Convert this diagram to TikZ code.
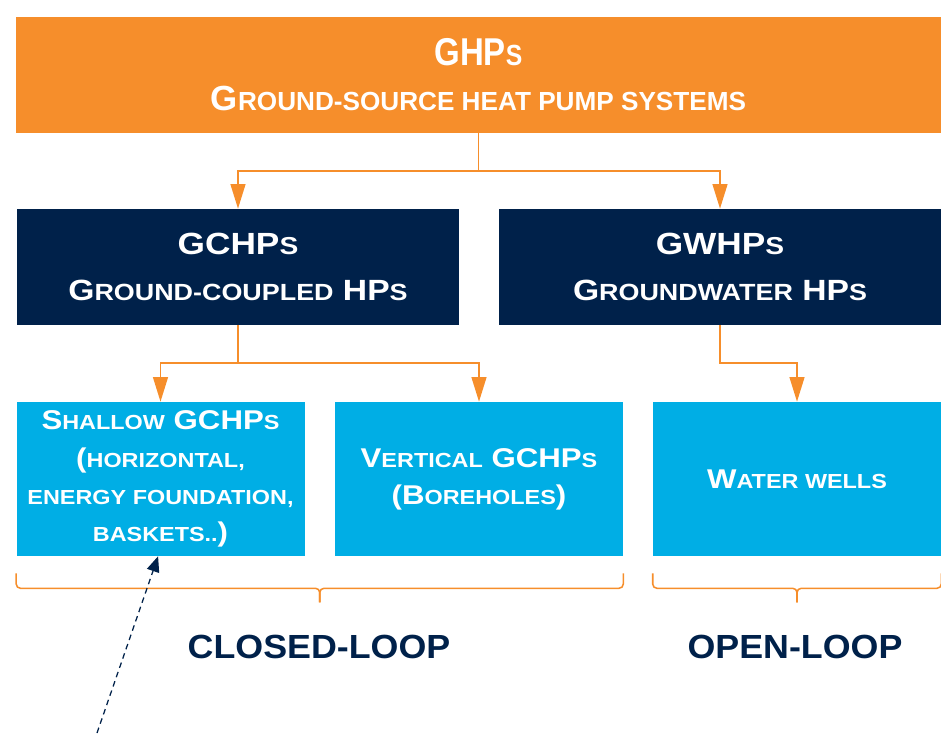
\documentclass[tikz,border=0pt]{standalone}
\usepackage{fontspec}
\setmainfont{Liberation Sans}
\newfontfamily\ghpnarrow[FakeStretch=0.85]{Liberation Sans}
\newfontfamily\ghpwide[FakeStretch=1.15]{Liberation Sans}
\newfontfamily\ghploop[FakeStretch=1.07]{Liberation Sans}
\usepackage{xcolor}
\usetikzlibrary{arrows.meta}
\usetikzlibrary{calc}
\definecolor{ghporange}{HTML}{F68E2B}
\definecolor{ghpnavy}{HTML}{00214A}
\definecolor{ghpblue}{HTML}{00AEE5}
\makeatletter
\newcommand{\lcratio}{0.75}
\newcommand{\lc}[1]{{\fontsize{\fpeval{\lcratio*\f@size}}{\f@baselineskip}\selectfont #1}}
\makeatother

\begin{document}
\begin{tikzpicture}
\tikzset{bracket/.style={draw=ghporange, line width=1.1pt, rounded corners=3pt}}
\tikzstyle{pointer} = [draw=ghporange, line width=1.4pt, -{Triangle[width=10.5pt,length=17.5pt]}]
\tikzstyle{notearrow} = [draw=ghpnavy, line width=0.9pt, dash pattern=on 4pt off 3pt, -{Triangle[width=9pt,length=11pt]}]
\tikzstyle{topbox} = [fill=ghporange, text=white, align=center, inner sep=0pt, minimum width=23.125cm, minimum height=2.9cm, font=\bfseries\fontsize{24.8}{31.9}\selectfont]
\tikzstyle{groupbox} = [fill=ghpnavy, text=white, align=center, inner sep=0pt, minimum width=11.05cm, minimum height=2.9cm, font=\renewcommand{\lcratio}{0.8}\ghpwide\bfseries\fontsize{20.8}{33.3}\selectfont]
\tikzstyle{leafbox} = [fill=ghpblue, text=white, align=center, inner sep=0pt, minimum width=7.2cm, minimum height=3.85cm, font=\ghpwide\bfseries\fontsize{19.3}{26.5}\selectfont]
\tikzstyle{looplabel} = [text=ghpnavy, font=\ghploop\bfseries\fontsize{23.8}{28}\selectfont]

\useasboundingbox (0,0) rectangle (23.525,-18.375);

\node[topbox] (ghp) at (11.9625,-1.875) {{\ghpnarrow\bfseries\fontsize{27.6}{31.9}\selectfont GHP\lc{S}}\\G\lc{ROUND-SOURCE HEAT PUMP SYSTEMS}};
\node[groupbox] (gchp) at (5.95,-6.675) {{\fontsize{21.8}{33.3}\selectfont GCHP\lc{S}}\\G\lc{ROUND-COUPLED} HP\lc{S}};
\node[groupbox] (gwhp) at (18,-6.675) {{\fontsize{21.8}{33.3}\selectfont GWHP\lc{S}}\\G\lc{ROUNDWATER} HP\lc{S}};
\node[leafbox] (shallow) at (4.0125,-11.975) {S\lc{HALLOW} GCHP\lc{S}\\(\lc{HORIZONTAL,}\\\lc{ENERGY FOUNDATION,}\\\lc{BASKETS..})};
\node[leafbox] (vertical) at (11.975,-11.975) {V\lc{ERTICAL} GCHP\lc{S}\\(B\lc{OREHOLES})};
\node[leafbox] (wells) at (19.925,-11.975) {W\lc{ATER WELLS}};
\draw [pointer] (ghp.south) -- ++(0,-0.95) -| (gchp.north);
\draw [pointer] (ghp.south) -- ++(0,-0.95) -| (gwhp.north);
\draw [pointer] (gchp.south) -- ++(0,-0.95) -| (shallow.north);
\draw [pointer] (gchp.south) -- ++(0,-0.95) -| (vertical.north);
\draw [pointer] (gwhp.south) -- ++(0,-0.95) -| (wells.north);
\draw [bracket] ([yshift=-0.425cm]shallow.south west) |- ($(shallow.south west)!0.5!(vertical.south east)+(0,-0.8)$) -- ++(0,-0.35);
\draw [bracket] ([yshift=-0.425cm]vertical.south east) |- ($(shallow.south west)!0.5!(vertical.south east)+(0,-0.8)$) -- ++(0,-0.35);
\draw [bracket] ([yshift=-0.425cm]wells.south west) |- ($(wells.south)+(0,-0.8)$) -- ++(0,-0.35);
\draw [bracket] ([yshift=-0.425cm]wells.south east) |- ($(wells.south)+(0,-0.8)$) -- ++(0,-0.35);
\node[looplabel] (closed) at (7.975,-16.175) {CLOSED-LOOP};
\node[looplabel] (open) at (19.875,-16.175) {OPEN-LOOP};
\coordinate (tail) at (2.425,-18.325);
\draw [notearrow] (tail) -- ([xshift=-0.06cm]shallow.south);
\end{tikzpicture}
\end{document}
